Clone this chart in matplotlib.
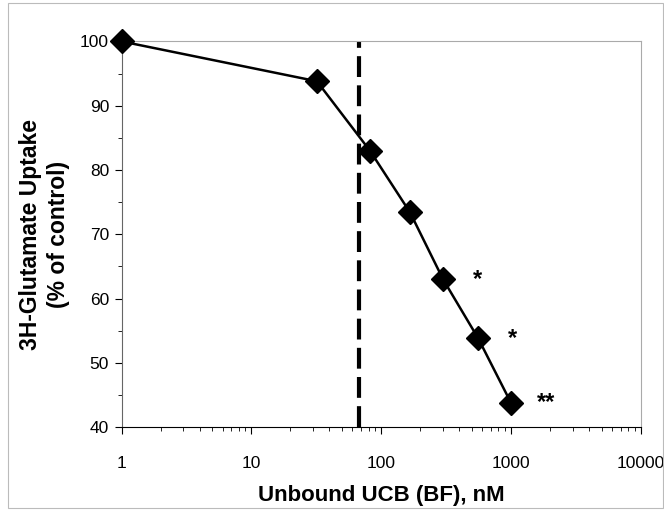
import numpy as np
import matplotlib.pyplot as plt
from matplotlib.patches import Rectangle

# unbound UCB vs glutamate uptake
ucb_nM = [1, 32, 82, 167, 300, 560, 1000]
uptake_pct = [100, 93.8, 83, 73.4, 63, 53.8, 43.8]
stars = ['', '', '', '', '*', '*', '**']
cutoff_nM = 68

plt.rcParams['font.family'] = ['Liberation Sans', 'DejaVu Sans']

fig = plt.figure(figsize=(6.64, 5.11), dpi=100)
ax = fig.add_axes([0.183, 0.164, 0.782, 0.755])

# faint border of the scanned figure
fig.patches.append(Rectangle((0.012, 0.006), 0.986, 0.988, transform=fig.transFigure,
                             fill=False, ec='#bbbbbb', lw=0.8))

ax.axvline(cutoff_nM, color='black', lw=3, dashes=(5, 2), zorder=2)
ax.plot(ucb_nM, uptake_pct, color='black', lw=1.8, marker='D', ms=12.5,
        mfc='black', mec='black', zorder=3, clip_on=False)

for x, y, s in zip(ucb_nM, uptake_pct, stars):
    if s:
        ax.annotate(s, (x, y), xytext=(25, 0), textcoords='offset points',
                    ha='center', va='center', fontsize=17, fontweight='bold')

ax.set_xscale('log')
ax.set_xlim(1, 10000)
ax.set_ylim(40, 100)
ax.set_yticks(range(40, 101, 10))
ax.set_yticks(range(45, 100, 10), minor=True)
ax.set_xticks([1, 10, 100, 1000, 10000])
ax.set_xticklabels(['1', '10', '100', '1000', '10000'])

ax.tick_params(axis='both', which='major', direction='out', length=5, width=0.8,
               labelsize=12.5, pad=4)
ax.tick_params(axis='both', which='minor', direction='out', length=3, width=0.6)
ax.tick_params(axis='x', which='major', pad=16)

ax.spines['top'].set_color('#aaaaaa')
ax.spines['right'].set_color('#aaaaaa')
ax.spines['left'].set_color('#666666')
ax.spines['bottom'].set_color('black')

ax.set_xlabel('Unbound UCB (BF), nM', fontsize=16, fontweight='bold', labelpad=10)
ax.set_ylabel('3H-Glutamate Uptake\n(% of control)', fontsize=16.5,
              fontweight='bold', labelpad=7, linespacing=1.3)

fig.savefig('out.png', dpi=100)
